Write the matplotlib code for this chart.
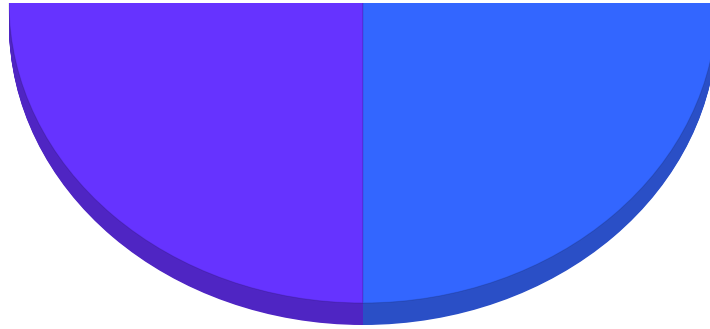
import matplotlib
matplotlib.use("Agg")
import matplotlib.pyplot as plt
from matplotlib.patches import Rectangle
import numpy as np

# data
labels = ["Series A", "Series B"]
values = [50, 50]
top_colors = ["#6633FF", "#3366FF"]
side_colors = ["#4F25C3", "#2A4FC6"]

W, H = 710, 329
top_px = 3             # white strip above the plot area
cx = 363               # pixel centre x of the pie top face
a, b = 354, 300        # pixel semi-axes
depth_px = 22

fig = plt.figure(figsize=(W / 100, H / 100), dpi=100)
ax = fig.add_axes([0, 0, 1, (H - top_px) / H])

depth = depth_px / b
for off in np.linspace(depth, 0.0, 30):
    wedges, _ = ax.pie(values, colors=side_colors, startangle=90, counterclock=True,
                       center=(0, -off), radius=1, frame=True,
                       wedgeprops=dict(linewidth=0))
    for w in wedges:
        w.set_clip_on(True)
        w.set_clip_path(ax.patch)

wedges, _ = ax.pie(values, colors=top_colors, startangle=90, counterclock=True,
                   center=(0, 0), radius=1, frame=True,
                   wedgeprops=dict(linewidth=0.8, edgecolor=(0, 0, 0, 0.12)))
for w in wedges:
    w.set_clip_on(True)
    w.set_clip_path(ax.patch)

ax.set_xlim((0 - cx) / a, (W - cx) / a)
ax.set_ylim(-(H - top_px) / b, 0)
ax.set_aspect("auto")
ax.axis("off")

fig.patches.append(Rectangle((0, 1 - top_px / H), 1, top_px / H,
                             transform=fig.transFigure, facecolor="white",
                             edgecolor="none", zorder=10))

fig.savefig("out.png", dpi=100)
